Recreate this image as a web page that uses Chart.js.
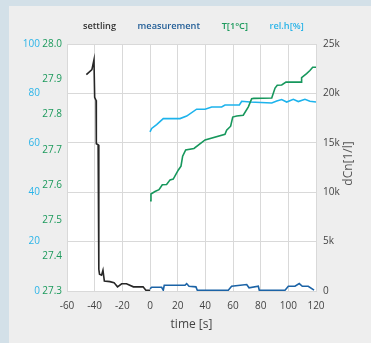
<!DOCTYPE html>
<html>
<head>
<meta charset="utf-8">
<script src="https://cdn.jsdelivr.net/npm/chart.js@4.4.1/dist/chart.umd.min.js"></script>
<style>
  html, body { margin: 0; padding: 0; background: #d3e0e8; overflow: hidden; }
  #panel { position: absolute; left: 9px; top: 6px; right: 0; bottom: 0; background: #eeeeee; }
  #wrap { position: absolute; left: 0; top: 0; width: 371px; height: 343px; }
</style>
</head>
<body>
<div id="panel"></div>
<div id="wrap"><canvas id="chart" width="371" height="343"></canvas></div>
<script>
/* ---------- data ---------- */
const seriesNames = ['settling', 'measurement', 'T[1°C]', 'rel.h[%]'];

// settling: time [s] / dCn [1/l]
const settlingTime = [-46, -42, -40.5, -40, -39, -38.8, -37.5, -37, -36.5, -35, -34, -33, -29, -26, -23.5, -20.5, -17, -12, -5, -3, 0];
const settlingDcn  = [21900, 22400, 23400, 19600, 19300, 14900, 14800, 2200, 1700, 1600, 2100, 1000, 950, 850, 420, 730, 730, 420, 420, 80, 80];

// measurement: time [s] / dCn [1/l]
const measTime = [0, 1.2, 8.4, 9.6, 10.3, 25.3, 26.5, 28.2, 33.2, 34.2, 56.6, 59, 69.9, 71.6, 78.3, 79, 97.6, 100, 104.8, 107.9, 110.1, 114.4, 118.6];
const measDcn  = [220, 380, 380, 80, 580, 580, 750, 480, 420, 80, 80, 480, 650, 320, 480, 80, 80, 480, 480, 750, 480, 480, 80];

// temperature: time [s] / T [°C]
const tempTime = [0, 0.7, 3.6, 6.5, 8.9, 12, 14.5, 16.8, 20.5, 22.4, 23.6, 25.8, 31.8, 39.8, 54.2, 55.4, 58.3, 59.8, 62.7, 67.4, 71.1, 73.5, 75, 88, 90.4, 92, 95.2, 98.3, 109.2, 109.6, 113.2, 115.6, 117.6, 120];
const tempVal  = [27.556, 27.575, 27.582, 27.587, 27.601, 27.602, 27.615, 27.617, 27.643, 27.654, 27.682, 27.7, 27.704, 27.728, 27.744, 27.756, 27.767, 27.793, 27.796, 27.798, 27.822, 27.845, 27.846, 27.847, 27.875, 27.883, 27.884, 27.892, 27.892, 27.905, 27.916, 27.925, 27.934, 27.934];

// relative humidity: time [s] / rel.h [%]
const rhTime = [0, 1.2, 4.8, 9.6, 21.7, 26.5, 33.7, 39.8, 44.6, 51.8, 54.2, 64.6, 66.3, 72.3, 88, 91.6, 95.2, 98.8, 103.6, 107.2, 112, 115.6, 120];
const rhVal  = [64.4, 65.8, 67.4, 69.8, 69.8, 70.8, 73.6, 73.6, 74.5, 74.5, 75.3, 75.3, 76.8, 76.5, 76.1, 76.9, 77.5, 76.5, 77.6, 76.7, 77.6, 76.8, 76.5];

// axis ticks
const timeTicks = { min: -60, max: 120, step: 20 };
const rhTicks   = { min: 0, max: 100, step: 20 };
const tempTicks = { min: 27.3, max: 28.0, step: 0.1 };
const dcnTicks  = { min: 0, max: 25000, step: 5000 };

/* ---------- styling ---------- */
const colors = {
  settling: '#262626',
  measurement: '#1b63a6',
  temp: '#16975c',
  rh: '#1db3ec',
  legendSettling: '#333333',
  legendMeasurement: '#215d96',
  legendTemp: '#1c9a5c',
  legendRh: '#2bb4e8',
  grid: '#d9d9d9',
  tick: '#444444',
};
const FONT = "'Open Sans', 'Noto Sans', sans-serif";

const pts = (xs, ys) => xs.map((x, i) => ({ x, y: ys[i] }));

function lineSet(label, data, color, axis, legendColor) {
  return {
    label, data, yAxisID: axis,
    borderColor: color, backgroundColor: color,
    borderWidth: 1.6, pointRadius: 0, tension: 0, fill: false,
    legendColor,
  };
}

/* plot background + right axis title (drawn bottom-to-top like the original) */
const plotDecor = {
  id: 'plotDecor',
  beforeDraw(chart) {
    const { ctx, chartArea: a } = chart;
    ctx.save();
    ctx.fillStyle = '#ffffff';
    ctx.fillRect(a.left, a.top, a.right - a.left, a.bottom - a.top);
    ctx.restore();
  },
  afterDraw(chart) {
    const { ctx, chartArea: a } = chart;
    ctx.save();
    ctx.translate(349, (a.top + a.bottom) / 2 - 4);
    ctx.rotate(-Math.PI / 2);
    ctx.font = `12px ${FONT}`;
    ctx.fillStyle = '#555555';
    ctx.textAlign = 'center';
    ctx.textBaseline = 'middle';
    ctx.fillText('dCn[1/l]', 0, 0);
    ctx.restore();
  },
};

new Chart(document.getElementById('chart'), {
  type: 'line',
  data: {
    datasets: [
      lineSet(seriesNames[0], pts(settlingTime, settlingDcn), colors.settling, 'yN', colors.legendSettling),
      lineSet(seriesNames[1], pts(measTime, measDcn), colors.measurement, 'yN', colors.legendMeasurement),
      lineSet(seriesNames[2], pts(tempTime, tempVal), colors.temp, 'yT', colors.legendTemp),
      lineSet(seriesNames[3], pts(rhTime, rhVal), colors.rh, 'yH', colors.legendRh),
    ],
  },
  plugins: [plotDecor],
  options: {
    responsive: false,
    animation: false,
    devicePixelRatio: 1,
    layout: { padding: { top: 2, left: 11, right: 0, bottom: 0 } },
    plugins: {
      tooltip: { enabled: false },
      legend: {
        position: 'top',
        labels: {
          boxWidth: 0,
          boxHeight: 15,
          padding: 17,
          font: { family: FONT, size: 9.2, weight: '600' },
          generateLabels(chart) {
            return chart.data.datasets.map((ds, i) => ({
              text: ds.label,
              fontColor: ds.legendColor,
              fillStyle: 'rgba(0,0,0,0)',
              strokeStyle: 'rgba(0,0,0,0)',
              lineWidth: 0,
              hidden: false,
              datasetIndex: i,
            }));
          },
        },
      },
    },
    scales: {
      x: {
        type: 'linear',
        min: timeTicks.min, max: timeTicks.max,
        grid: { color: colors.grid, drawTicks: false },
        border: { color: colors.grid },
        ticks: { stepSize: timeTicks.step, color: colors.tick, padding: 9, font: { family: FONT, size: 10 } },
        title: { display: true, text: 'time [s]', color: colors.tick, font: { family: FONT, size: 12 }, padding: { top: 0, bottom: 11 } },
        afterFit(s) { s.height = 52; },
      },
      yT: {
        position: 'left',
        min: tempTicks.min, max: tempTicks.max,
        grid: { display: false, drawTicks: false },
        border: { display: false },
        ticks: {
          stepSize: tempTicks.step, color: colors.legendTemp, padding: 5, font: { family: FONT, size: 10 },
          callback: v => v.toFixed(1),
        },
        afterFit(s) { s.width = 25; },
      },
      yH: {
        position: 'left',
        min: rhTicks.min, max: rhTicks.max,
        grid: { display: false, drawTicks: false },
        border: { display: false },
        ticks: { stepSize: rhTicks.step, color: colors.legendRh, padding: 2, font: { family: FONT, size: 10 } },
        afterFit(s) { s.width = 31; },
      },
      yN: {
        position: 'right',
        min: dcnTicks.min, max: dcnTicks.max,
        grid: { color: colors.grid, drawTicks: false },
        border: { color: colors.grid },
        ticks: {
          stepSize: dcnTicks.step, color: colors.tick, padding: 7, font: { family: FONT, size: 10 },
          callback: v => (v === 0 ? '0' : v / 1000 + 'k'),
        },
        afterFit(s) { s.width = 55; },
      },
    },
  },
});
</script>
</body>
</html>
